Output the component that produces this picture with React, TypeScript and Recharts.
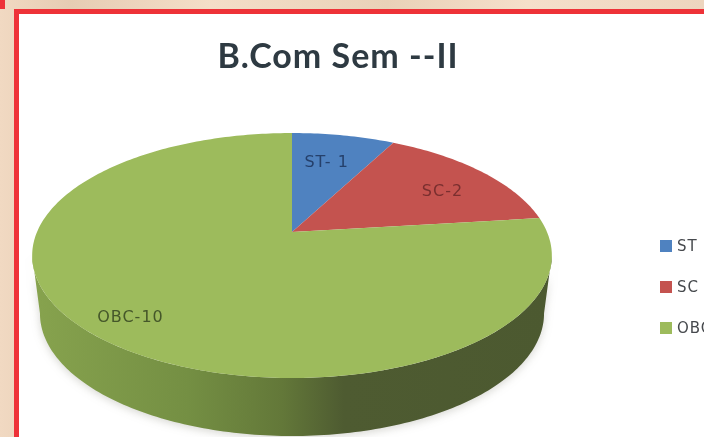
import { Legend, Pie, PieChart } from "recharts";

const categories = ["ST", "SC", "OBC"];
const seriesValues = [1, 2, 10];
const sliceLabels = ["ST- 1", "SC-2", "OBC-10"];
const sliceColors = ["#4f82c0", "#c4534f", "#9dbb5c"];
const labelInk = ["#25406b", "#7a2f2f", "#45572a"];
const labelReach = [0.69, 0.735, 0.84];
const labelTurn = [1, -4, 0];

const pieData = categories.map((name, i) => ({
  name,
  value: seriesValues[i],
  fill: sliceColors[i],
  text: sliceLabels[i],
  ink: labelInk[i],
  reach: labelReach[i],
  turn: labelTurn[i],
}));

// tilt of the disc, gives the perspective look of the old excel 3d pie
const TILT = -0.192;
const SQUASH = 0.4627;
const RIM_DEPTH = 58;
const RIM_SCALE = 0.97;

function project(cx: number, cy: number, radius: number, angle: number, reach = 1) {
  const a = (angle * Math.PI) / 180;
  const u = Math.cos(a) * reach;
  const v = -Math.sin(a) * reach;
  const d = 1 + TILT * v;
  return { x: cx + (radius * u) / d, y: cy + (radius * SQUASH * v) / d };
}

function TopSlice(props: any) {
  const { cx, cy, outerRadius, startAngle, endAngle, fill } = props;
  const pts = [`${cx},${cy}`];
  const steps = Math.ceil(Math.abs(startAngle - endAngle));
  for (let i = 0; i <= steps; i++) {
    const p = project(cx, cy, outerRadius, startAngle + ((endAngle - startAngle) * i) / steps);
    pts.push(`${p.x},${p.y}`);
  }
  return <polygon points={pts.join(" ")} fill={fill} />;
}

function RimSlice(props: any) {
  const { cx, cy, outerRadius, startAngle, endAngle } = props;
  const from = Math.min(startAngle, -11);
  const to = Math.max(endAngle, -169);
  if (from <= to) return null;
  const upper: string[] = [];
  const lower: string[] = [];
  for (let a = from; a >= to; a -= 1) {
    const p = project(cx, cy, outerRadius, a);
    upper.push(`${p.x},${p.y}`);
    lower.unshift(`${cx + (p.x - cx) * RIM_SCALE},${p.y + RIM_DEPTH}`);
  }
  const outline = [...upper, ...lower];
  return (
    <polygon
      points={outline.join(" ")}
      fill="url(#rimShade)"
      style={{ filter: "drop-shadow(0 2px 4px rgba(90,90,70,0.25))" }}
    />
  );
}

function sliceLabel(props: any) {
  const { cx, cy, outerRadius, midAngle, payload } = props;
  const p = project(cx, cy, outerRadius, midAngle + payload.turn, payload.reach);
  return (
    <text
      x={p.x}
      y={p.y}
      textAnchor="middle"
      dominantBaseline="central"
      fontFamily="DejaVu Sans"
      fontSize={16}
      letterSpacing={1}
      fill={payload.ink}
    >
      {payload.text}
    </text>
  );
}

function LegendRows({ payload }: any) {
  // both pies report to the legend, keep one row per category
  const rows = categories.map((name) => (payload || []).find((item: any) => item.value === name)).filter(Boolean);
  return (
    <div style={{ fontFamily: "DejaVu Sans", fontSize: 15, letterSpacing: 1, color: "#46494d" }}>
      {rows.map((item: any) => (
        <div key={item.value} style={{ display: "flex", alignItems: "center", height: 41, whiteSpace: "nowrap" }}>
          <span style={{ width: 12, height: 12, background: item.color, marginRight: 5 }} />
          {item.value}
        </div>
      ))}
    </div>
  );
}

export default function App() {
  return (
    <div
      style={{
        position: "absolute",
        left: 0,
        top: 0,
        width: 704,
        height: 437,
        overflow: "hidden",
        background: "linear-gradient(90deg,#f1d9c2 0%,#e6ccb3 10%,#f4dec8 30%,#e9d1b8 55%,#f5dfca 75%,#edd5be 100%)",
      }}
    >
      <div style={{ position: "absolute", left: 0, top: 0, width: 5, height: 9, background: "#ee3238" }} />
      <div
        style={{
          position: "absolute",
          left: 14,
          top: 9,
          width: 720,
          height: 460,
          boxSizing: "border-box",
          border: "5px solid #ee3238",
          background: "#fff",
        }}
      />
      <div
        style={{
          position: "absolute",
          left: 0,
          top: 33,
          width: 676,
          textAlign: "center",
          fontFamily: "Lato",
          fontWeight: 700,
          fontSize: 34,
          letterSpacing: 1,
          lineHeight: "44px",
          color: "#2e3a42",
          filter: "blur(0.4px)",
        }}
      >
        B.Com Sem --II
      </div>
      <div style={{ position: "absolute", left: 0, top: 0, filter: "blur(0.5px)" }}>
        <PieChart width={760} height={437} margin={{ top: 0, right: 0, bottom: 0, left: 0 }}>
          <defs>
            <linearGradient id="rimShade" x1="0" y1="0" x2="1" y2="0">
              <stop offset="0%" stopColor="#87a34e" />
              <stop offset="30%" stopColor="#748f43" />
              <stop offset="48%" stopColor="#637839" />
              <stop offset="60%" stopColor="#4e5b31" />
              <stop offset="100%" stopColor="#4c5930" />
            </linearGradient>
          </defs>
          <Pie
            data={pieData}
            dataKey="value"
            cx={292}
            cy={232}
            outerRadius={255}
            startAngle={90}
            endAngle={-270}
            stroke="none"
            legendType="none"
            shape={RimSlice}
            isAnimationActive={false}
          />
          <Pie
            data={pieData}
            dataKey="value"
            nameKey="name"
            cx={292}
            cy={232}
            outerRadius={255}
            startAngle={90}
            endAngle={-270}
            stroke="none"
            shape={TopSlice}
            label={sliceLabel}
            labelLine={false}
            isAnimationActive={false}
          />
          <Legend
            layout="vertical"
            content={<LegendRows />}
            wrapperStyle={{ position: "absolute", left: 660, top: 225, width: 100 }}
          />
        </PieChart>
      </div>
    </div>
  );
}
